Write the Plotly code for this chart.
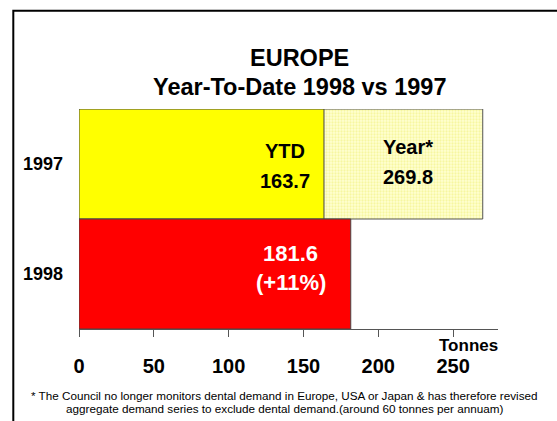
import plotly.graph_objects as go

categories = ["1997", "1998"]
ytd_values = [163.7, 181.6]
full_year_1997 = 269.8
x_ticks = [0, 50, 100, 150, 200, 250]
title_lines = ["EUROPE", "Year-To-Date 1998 vs 1997"]
footnote_lines = [
    "* The Council no longer monitors dental demand in Europe, USA or Japan &amp; has therefore revised",
    "aggregate demand series to exclude dental demand.(around 60 tonnes per annuam)",
]

FONT = "Arial, 'Liberation Sans', sans-serif"
W, H = 557, 421
L, R, T, B = 79, 59, 109, 92
pw, ph = W - L - R, H - T - B

def px_x(p):
    return (p - L) / pw

def px_y(p):
    return 1 - (p - T) / ph

fig = go.Figure()

# full-year 1997 bar (patterned), drawn first
fig.add_trace(go.Bar(
    y=[categories[0]], x=[full_year_1997], orientation="h", width=1,
    marker_color="#ffffc0", marker_line_color="#555555", marker_line_width=1,
    marker_pattern_shape=".", marker_pattern_fgcolor="#eded70", marker_pattern_bgcolor="#ffffd2",
    marker_pattern_size=3, marker_pattern_solidity=0.45,
    showlegend=False,
))
# YTD bars
fig.add_trace(go.Bar(
    y=categories, x=ytd_values, orientation="h", width=1,
    marker_color=["#ffff00", "#ff0000"], marker_line_color="#444444", marker_line_width=1,
    showlegend=False,
))

def b(t):
    return f"<b>{t}</b>"

ann = []
i97, i98 = 0, 1
# 1997 YTD label (two lines)
for txt, sh in ((b("YTD"), 13), (b(ytd_values[0]), -17)):
    ann.append(dict(x=ytd_values[0] - 26, y=i97, xref="x", yref="y", text=txt,
                    showarrow=False, yshift=sh, font=dict(family=FONT, size=20, color="black")))
# 1997 full-year label
for txt, sh in ((b("Year*"), 17), (b(full_year_1997), -13)):
    ann.append(dict(x=(ytd_values[0] + full_year_1997) / 2 + 3, y=i97, xref="x", yref="y", text=txt,
                    showarrow=False, yshift=sh, font=dict(family=FONT, size=20, color="black")))
# 1998 label
pct = round((ytd_values[1] / ytd_values[0] - 1) * 100)
for txt, sh in ((b(ytd_values[1]), 21), (b(f"(+{pct}%)"), -8)):
    ann.append(dict(x=ytd_values[1] - 40, y=i98, xref="x", yref="y", text=txt,
                    showarrow=False, yshift=sh, font=dict(family=FONT, size=22, color="white")))
# title lines
for txt, yc in zip(title_lines, (58, 87)):
    ann.append(dict(x=px_x(299.5), y=px_y(yc), xref="paper", yref="paper", text=b(txt),
                    showarrow=False, yanchor="middle",
                    font=dict(family=FONT, size=23.5, color="black")))
# axis unit
ann.append(dict(x=px_x(500), y=px_y(345), xref="paper", yref="paper", text=b("Tonnes"),
                showarrow=False, yanchor="middle",
                font=dict(family=FONT, size=17, color="black")))
# footnote
for txt, yc in zip(footnote_lines, (395, 408)):
    ann.append(dict(x=px_x(284), y=px_y(yc), xref="paper", yref="paper", text=txt,
                    showarrow=False, yanchor="middle",
                    font=dict(family=FONT, size=11.7, color="black")))

fig.update_layout(
    width=W, height=H,
    margin=dict(l=L, r=R, t=T, b=B, pad=0),
    paper_bgcolor="white", plot_bgcolor="white",
    barmode="overlay",
    annotations=ann,
    shapes=[dict(type="rect", xref="paper", yref="paper",
                 x0=px_x(13.3), x1=px_x(W + 20), y0=px_y(10.7), y1=px_y(H + 20),
                 line=dict(color="black", width=2), layer="above")],
    xaxis=dict(range=[0, 280], tickvals=x_ticks, ticks="outside", ticklen=7,
               tickcolor="#555555", showline=True, linecolor="#555555", linewidth=1,
               showgrid=False, zeroline=False, ticklabelstandoff=12,
               tickfont=dict(family=FONT, size=20, color="black", weight="bold")),
    yaxis=dict(type="category", range=[1.5, -0.5],
               showgrid=False, zeroline=False, showline=False, ticks="",
               ticklabelstandoff=15,
               tickfont=dict(family=FONT, size=18, color="black", weight="bold")),
)

fig.write_html("out.html")
